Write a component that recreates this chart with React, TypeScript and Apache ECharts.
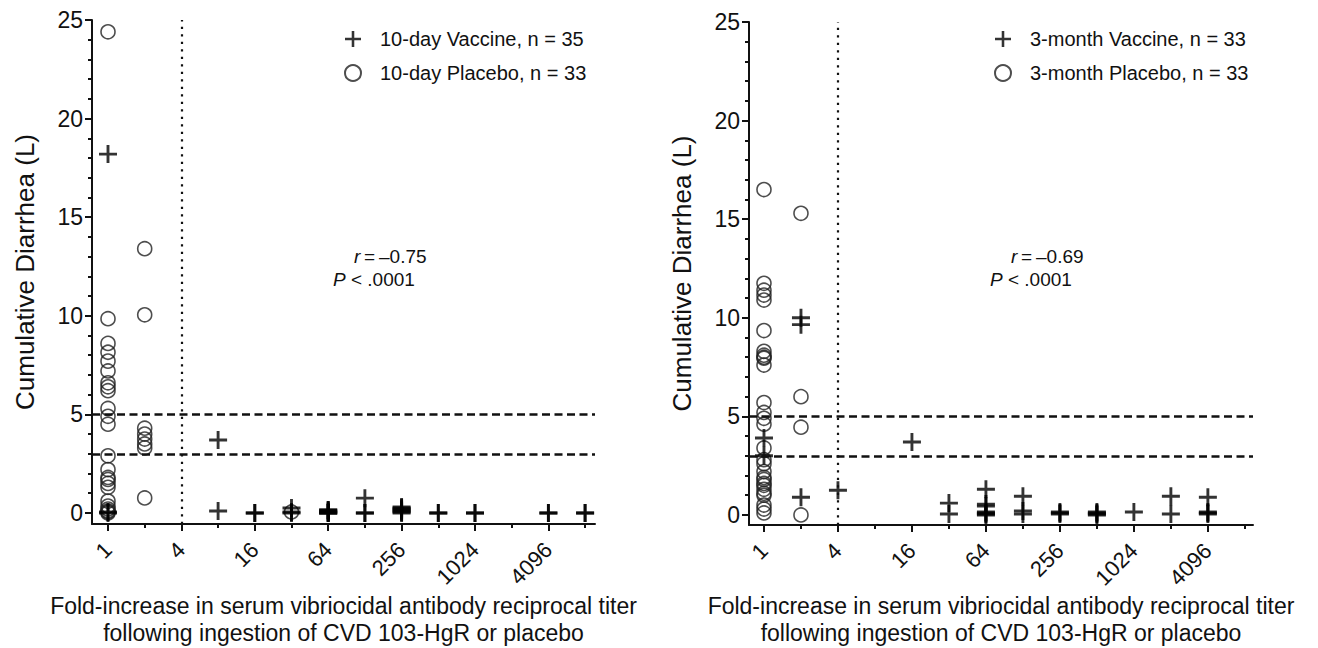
import React, { useEffect, useRef } from "react";
import * as echarts from "echarts";

// ---- data ----
const foldTicks = [1, 2, 4, 8, 16, 32, 64, 128, 256, 512, 1024, 2048, 4096, 8192];
const foldLabels = [1, 4, 16, 64, 256, 1024, 4096];
const yMajor = [0, 5, 10, 15, 20, 25];
const yMinor = [1, 2, 3, 4, 6, 7, 8, 9, 11, 12, 13, 14, 16, 17, 18, 19, 21, 22, 23, 24];
const diarrheaThresholds = [5, 3];
const seroconversionFold = 4;

// [fold-increase, cumulative diarrhea (L)]
const leftVaccine: [number, number][] = [
  [1, 18.2], [1, 0.05], [1, 0],
  [8, 3.7], [8, 0.1],
  [16, 0], [16, 0],
  [32, 0.25], [32, 0.05], [32, 0],
  [64, 0.15], [64, 0.15], [64, 0.1], [64, 0.05], [64, 0], [64, 0], [64, 0],
  [128, 0.75], [128, 0], [128, 0],
  [256, 0.3], [256, 0.25], [256, 0.2], [256, 0.15], [256, 0.1], [256, 0.05], [256, 0],
  [512, 0], [512, 0],
  [1024, 0], [1024, 0],
  [4096, 0], [4096, 0],
  [8192, 0], [8192, 0],
];
const leftPlacebo: [number, number][] = [
  [1, 24.4], [1, 9.85], [1, 8.6], [1, 8.15], [1, 7.7], [1, 7.2], [1, 6.6], [1, 6.4],
  [1, 6.2], [1, 5.3], [1, 4.9], [1, 4.5], [1, 2.9], [1, 2.2], [1, 1.8], [1, 1.7],
  [1, 1.5], [1, 1.3], [1, 0.6], [1, 0.35], [1, 0.2], [1, 0.1], [1, 0.05], [1, 0],
  [2, 13.4], [2, 10.05], [2, 4.3], [2, 4.0], [2, 3.75], [2, 3.5], [2, 3.3], [2, 0.76],
  [32, 0.05],
];
const rightVaccine: [number, number][] = [
  [1, 3.9], [1, 3.0],
  [2, 10.0], [2, 9.65], [2, 0.9],
  [4, 1.25],
  [16, 3.7],
  [32, 0.6], [32, 0.05],
  [64, 1.3], [64, 0.55], [64, 0.45], [64, 0.15], [64, 0.1], [64, 0.05], [64, 0],
  [128, 0.95], [128, 0.2], [128, 0.05],
  [256, 0.15], [256, 0.1], [256, 0.05],
  [512, 0.15], [512, 0.1], [512, 0.05], [512, 0],
  [1024, 0.15],
  [2048, 0.95], [2048, 0.05],
  [4096, 0.9], [4096, 0.15], [4096, 0.1], [4096, 0.05],
];
const rightPlacebo: [number, number][] = [
  [1, 16.5], [1, 11.75], [1, 11.4], [1, 11.15], [1, 10.9], [1, 9.35], [1, 8.3], [1, 8.1],
  [1, 8.0], [1, 7.95], [1, 7.6], [1, 5.7], [1, 5.2], [1, 4.9], [1, 4.6], [1, 3.4],
  [1, 2.8], [1, 2.6], [1, 2.2], [1, 1.9], [1, 1.8], [1, 1.6], [1, 1.5], [1, 1.3],
  [1, 1.1], [1, 1.0], [1, 0.5], [1, 0.3], [1, 0.1],
  [2, 15.3], [2, 6.0], [2, 4.45], [2, 0],
];

const leftNames = ["10-day Vaccine, n = 35", "10-day Placebo, n = 33"];
const rightNames = ["3-month Vaccine, n = 33", "3-month Placebo, n = 33"];
const leftStats = ["–0.75", ".0001"];
const rightStats = ["–0.69", ".0001"];
const xTitle =
  "Fold-increase in serum vibriocidal antibody reciprocal titer\nfollowing ingestion of CVD 103-HgR or placebo";
const yTitle = "Cumulative Diarrhea (L)";

// ---- styling ----
const FONT = '"Liberation Sans", Arial, Helvetica, sans-serif';
const INK = "#111";
const PLUS = "path://M8.4,0H11.6V8.4H20V11.6H11.6V20H8.4V11.6H0V8.4H8.4Z";
const THIN = "\u2009";

const log2 = (v: number) => Math.log2(v);
const toXY = (d: [number, number][]) => d.map(([f, v]) => [log2(f), v]);

const majorX = foldLabels.map(log2);
const minorX = foldTicks.filter((f) => !foldLabels.includes(f)).map(log2);

function axesFor(g: number, xMin: number, xMax: number, yMin: number, gap: number) {
  const xs = [
    {
      gridIndex: g,
      type: "value",
      min: xMin,
      max: xMax,
      position: "bottom",
      axisLine: { show: true, onZero: false, lineStyle: { color: INK, width: 2 } },
      axisTick: { show: true, customValues: majorX, length: 7, lineStyle: { color: INK, width: 2 } },
      axisLabel: {
        show: true,
        customValues: majorX,
        formatter: (v: number) => String(Math.round(Math.pow(2, v))),
        rotate: 45,
        fontSize: 22,
        margin: 22,
        color: INK,
        fontFamily: FONT,
      },
      splitLine: { show: false },
      name: xTitle,
      nameLocation: "middle",
      nameGap: gap,
      nameMoveOverlap: false,
      nameTextStyle: { fontSize: 23, lineHeight: 27, color: INK, fontFamily: FONT, align: "center", verticalAlign: "top" },
    },
    {
      gridIndex: g,
      type: "value",
      min: xMin,
      max: xMax,
      position: "bottom",
      axisLine: { show: false, onZero: false },
      axisTick: { show: true, customValues: minorX, length: 4, lineStyle: { color: INK, width: 2 } },
      axisLabel: { show: false },
      splitLine: { show: false },
    },
  ];
  const ys = [
    {
      gridIndex: g,
      type: "value",
      min: yMin,
      max: 25,
      position: "left",
      axisLine: { show: true, onZero: false, lineStyle: { color: INK, width: 2 } },
      axisTick: { show: true, customValues: yMajor, length: 7, lineStyle: { color: INK, width: 2 } },
      axisLabel: { show: true, customValues: yMajor, fontSize: 23, margin: 9, color: INK, fontFamily: FONT },
      splitLine: { show: false },
      name: yTitle,
      nameLocation: "middle",
      nameRotate: 90,
      nameGap: 54,
      nameMoveOverlap: false,
      nameTextStyle: { fontSize: 26, color: INK, fontFamily: FONT },
    },
    {
      gridIndex: g,
      type: "value",
      min: yMin,
      max: 25,
      position: "left",
      axisLine: { show: false, onZero: false },
      axisTick: { show: true, customValues: yMinor, length: 4, lineStyle: { color: INK, width: 2 } },
      axisLabel: { show: false },
      splitLine: { show: false },
    },
  ];
  return { xs, ys };
}

function refLines() {
  return {
    silent: true,
    symbol: "none",
    label: { show: false },
    animation: false,
    data: [
      ...diarrheaThresholds.map((t) => ({
        yAxis: t,
        lineStyle: { color: INK, width: 2.6, type: [8, 4.5] },
      })),
      {
        xAxis: log2(seroconversionFold),
        lineStyle: { color: INK, width: 2.2, type: [2.2, 5.3] },
      },
    ],
  };
}

function seriesFor(names: string[], vaccine: [number, number][], placebo: [number, number][], axisIdx: number) {
  return [
    {
      name: names[0],
      type: "scatter",
      xAxisIndex: axisIdx,
      yAxisIndex: axisIdx,
      data: toXY(vaccine),
      symbol: PLUS,
      symbolSize: 18,
      itemStyle: { color: "#000" },
      clip: false,
      silent: true,
      z: 3,
    },
    {
      name: names[1],
      type: "scatter",
      xAxisIndex: axisIdx,
      yAxisIndex: axisIdx,
      data: toXY(placebo),
      symbol: "circle",
      symbolSize: 14,
      itemStyle: { color: "rgba(0,0,0,0)", borderColor: "#222", borderWidth: 1.6 },
      clip: false,
      silent: true,
      z: 2,
      markLine: refLines(),
    },
  ];
}

function legendFor(names: string[], left: number) {
  return {
    left,
    top: 23,
    orient: "vertical",
    itemWidth: 16,
    itemHeight: 16,
    itemGap: 12,
    selectedMode: false,
    data: names,
    textStyle: { fontSize: 20, lineHeight: 22, color: INK, fontFamily: FONT, padding: [0, 0, 0, 14] },
  };
}

function statText(x: number, y: number, italic: string, rest: string) {
  return {
    type: "text",
    left: x,
    top: y,
    silent: true,
    style: {
      text: `{i|${italic}}${rest}`,
      fontSize: 19,
      fontFamily: FONT,
      fill: INK,
      rich: { i: { fontStyle: "italic", fontSize: 19, fontFamily: FONT, fill: INK } },
    },
  };
}

export default function App() {
  const ref = useRef<HTMLDivElement>(null);
  useEffect(() => {
    if (!ref.current) return;
    const chart = echarts.init(ref.current, undefined, { renderer: "svg" });
    const L = axesFor(0, -0.436, 13.27, -0.56, 68);
    const R = axesFor(1, -0.405, 13.22, -0.51, 67);
    chart.setOption({
      animation: false,
      backgroundColor: "#fff",
      textStyle: { fontFamily: FONT },
      grid: [
        { left: 92, top: 20, width: 503, height: 504, containLabel: false, outerBoundsMode: "none" },
        { left: 749, top: 22, width: 504, height: 503, containLabel: false, outerBoundsMode: "none" },
      ],
      xAxis: [...L.xs, ...R.xs],
      yAxis: [...L.ys, ...R.ys],
      legend: [legendFor(leftNames, 339), legendFor(rightNames, 989)],
      series: [
        ...seriesFor(leftNames, leftVaccine, leftPlacebo, 0),
        ...seriesFor(rightNames, rightVaccine, rightPlacebo, 2),
      ],
      graphic: [
        statText(354, 247, "r", `${THIN}=${THIN}${leftStats[0]}`),
        statText(333, 270, "P", ` < ${leftStats[1]}`),
        statText(1011, 247, "r", `${THIN}=${THIN}${rightStats[0]}`),
        statText(990, 270, "P", ` < ${rightStats[1]}`),
      ],
    });
    return () => chart.dispose();
  }, []);
  return (
    <div
      ref={ref}
      style={{ position: "fixed", left: 0, top: 0, width: 1318, height: 648, background: "#fff" }}
    />
  );
}
